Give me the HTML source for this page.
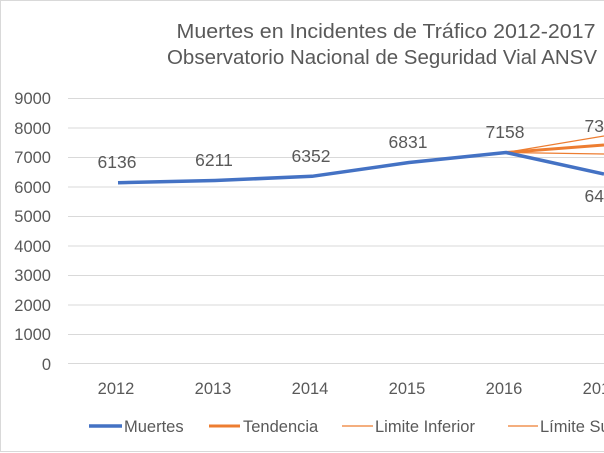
<!DOCTYPE html>
<html><head><meta charset="utf-8"><style>
html,body{margin:0;padding:0;background:#fff;width:604px;height:453px;overflow:hidden}
text{font-family:"Liberation Sans",sans-serif;fill:#595959}
</style></head><body>
<svg width="604" height="453" viewBox="0 0 604 453">
<rect x="0.5" y="0.5" width="640" height="451" fill="#fff" stroke="#d9d9d9"/>
<text x="386" y="38" font-size="20.5" text-anchor="middle" textLength="419" lengthAdjust="spacingAndGlyphs">Muertes en Incidentes de Tráfico 2012-2017</text>
<text x="382" y="64" font-size="20.5" text-anchor="middle" textLength="430" lengthAdjust="spacingAndGlyphs">Observatorio Nacional de Seguridad Vial ANSV</text>
<g stroke="#d9d9d9" stroke-width="1">
<line x1="68" x2="604" y1="98.5" y2="98.5"/><line x1="68" x2="604" y1="128" y2="128"/>
<line x1="68" x2="604" y1="157.5" y2="157.5"/><line x1="68" x2="604" y1="187" y2="187"/>
<line x1="68" x2="604" y1="216.5" y2="216.5"/><line x1="68" x2="604" y1="246" y2="246"/>
<line x1="68" x2="604" y1="275.5" y2="275.5"/><line x1="68" x2="604" y1="305" y2="305"/>
<line x1="68" x2="604" y1="334.5" y2="334.5"/><line x1="68" x2="604" y1="363.5" y2="363.5"/>
</g>
<g font-size="16.5" text-anchor="end">
<text x="51" y="104">9000</text><text x="51" y="134">8000</text><text x="51" y="163">7000</text>
<text x="51" y="193">6000</text><text x="51" y="222">5000</text><text x="51" y="252">4000</text>
<text x="51" y="281">3000</text><text x="51" y="311">2000</text><text x="51" y="340">1000</text>
<text x="51" y="370">0</text>
</g>
<g font-size="16.5" text-anchor="middle">
<text x="116" y="394">2012</text><text x="213" y="394">2013</text><text x="310" y="394">2014</text>
<text x="407" y="394">2015</text><text x="504" y="394">2016</text><text x="601" y="394">2017</text>
</g>
<g stroke="#ed7d31" fill="none">
<line x1="506" y1="152.5" x2="604" y2="136" stroke-width="1.2"/>
<line x1="506" y1="152.5" x2="604" y2="154" stroke-width="1.2"/>
<line x1="506" y1="152.5" x2="604" y2="145" stroke-width="3"/>
</g>
<polyline points="118,182.7 215,180.5 312,176.3 409,162.5 506,152.5 604,174" fill="none" stroke="#4472c4" stroke-width="3.5" stroke-linejoin="round"/>
<g font-size="17.5" text-anchor="middle">
<text x="117" y="168">6136</text><text x="214" y="166">6211</text><text x="311" y="162">6352</text>
<text x="408" y="148">6831</text><text x="505" y="138">7158</text><text x="604" y="132">7388</text>
<text x="604" y="202">6450</text>
</g>
<g font-size="16.5">
<line x1="89" x2="122" y1="426" y2="426" stroke="#4472c4" stroke-width="3.5"/>
<text x="124" y="432">Muertes</text>
<line x1="209" x2="240" y1="426" y2="426" stroke="#ed7d31" stroke-width="3"/>
<text x="243" y="432">Tendencia</text>
<line x1="342" x2="373" y1="426" y2="426" stroke="#ed7d31" stroke-width="1.2"/>
<text x="375" y="432">Limite Inferior</text>
<line x1="508" x2="538" y1="426" y2="426" stroke="#ed7d31" stroke-width="1.2"/>
<text x="540" y="432">Límite Superior</text>
</g>
</svg>
</body></html>
